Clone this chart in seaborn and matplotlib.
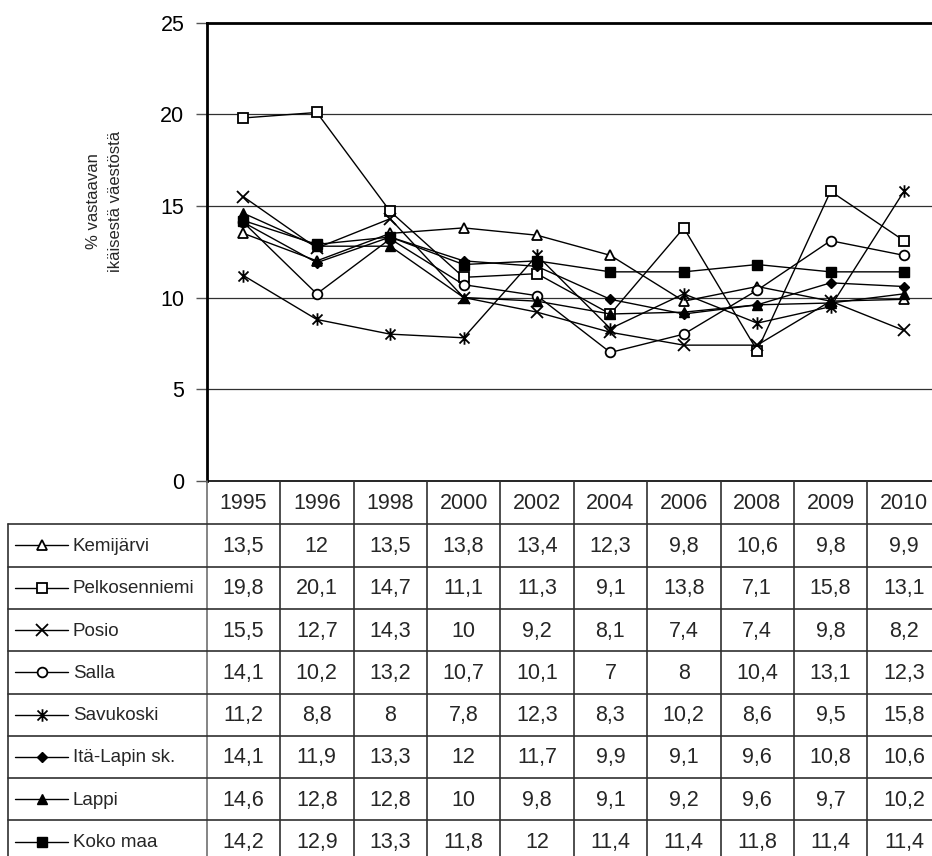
import numpy as np
import pandas as pd
import matplotlib
matplotlib.use("Agg")
import matplotlib.pyplot as plt
from matplotlib import font_manager
from matplotlib.lines import Line2D
from matplotlib.path import Path
import seaborn as sns

years = ["1995", "1996", "1998", "2000", "2002", "2004", "2006", "2008", "2009", "2010"]
series_names = ["Kemijärvi", "Pelkosenniemi", "Posio", "Salla", "Savukoski",
                "Itä-Lapin sk.", "Lappi", "Koko maa"]
kemijarvi = [13.5, 12, 13.5, 13.8, 13.4, 12.3, 9.8, 10.6, 9.8, 9.9]
pelkosenniemi = [19.8, 20.1, 14.7, 11.1, 11.3, 9.1, 13.8, 7.1, 15.8, 13.1]
posio = [15.5, 12.7, 14.3, 10, 9.2, 8.1, 7.4, 7.4, 9.8, 8.2]
salla = [14.1, 10.2, 13.2, 10.7, 10.1, 7, 8, 10.4, 13.1, 12.3]
savukoski = [11.2, 8.8, 8, 7.8, 12.3, 8.3, 10.2, 8.6, 9.5, 15.8]
ita_lapin = [14.1, 11.9, 13.3, 12, 11.7, 9.9, 9.1, 9.6, 10.8, 10.6]
lappi = [14.6, 12.8, 12.8, 10, 9.8, 9.1, 9.2, 9.6, 9.7, 10.2]
koko_maa = [14.2, 12.9, 13.3, 11.8, 12, 11.4, 11.4, 11.8, 11.4, 11.4]
series_values = [kemijarvi, pelkosenniemi, posio, salla, savukoski, ita_lapin, lappi, koko_maa]
y_ticks = [0, 5, 10, 15, 20, 25]
y_label = "% vastaavan\nikäisestä väestöstä"

# asterisk marker: an x with a vertical bar
star = Path([(0, -1), (0, 1), (-0.8, -0.8), (0.8, 0.8), (-0.8, 0.8), (0.8, -0.8)],
            [Path.MOVETO, Path.LINETO, Path.MOVETO, Path.LINETO, Path.MOVETO, Path.LINETO])

# marker styles: (marker, facecolor, size)
styles = [("^", "white", 7.5), ("s", "white", 7), ("x", "none", 8), ("o", "white", 7),
          (star, "none", 9), ("D", "black", 5.5), ("^", "black", 7.5), ("s", "black", 6.5)]

sns.set_theme(style="white")
available = {f.name for f in font_manager.fontManager.ttflist}
if "Liberation Sans Narrow" in available:
    fam = ["Liberation Sans Narrow", "DejaVu Sans"]
    fs, fs_row, fs_lab = 16, 16, 12.5
else:
    fam = ["Liberation Sans", "DejaVu Sans"]
    fs, fs_row, fs_lab = 15.5, 13.5, 12
plt.rcParams["font.family"] = fam

W, H = 932, 856
fig = plt.figure(figsize=(W / 100, H / 100), dpi=100)

x_left = 206.7
col_w = 73.4
y_top = 22.7
y_zero = 480.7

ax = fig.add_axes([x_left / W, 1 - y_zero / H, col_w * 10 / W, (y_zero - y_top) / H])

df = pd.DataFrame({"pos": np.arange(len(years))})
for name, vals, (m, fc, ms) in zip(series_names, series_values, styles):
    df[name] = vals
    mew = 1.3 if fc != "black" else 1.0
    sns.lineplot(data=df, x="pos", y=name, ax=ax, color="black", linewidth=1.0,
                 marker=m, markersize=ms, markerfacecolor=fc, markeredgecolor="black",
                 markeredgewidth=mew, zorder=3)

ax.set_xlim(-0.5, len(years) - 0.5)
ax.set_ylim(0, 25)
ax.set_yticks(y_ticks)
ax.set_yticklabels([str(t) for t in y_ticks], fontsize=fs)
ax.set_xticks([])
ax.set_xlabel("")
ax.set_ylabel("")
for t in [5, 10, 15, 20]:
    ax.axhline(t, color="#303030", linewidth=0.9, zorder=1)
ax.tick_params(axis="y", direction="out", length=8, width=1, color="#555555",
               pad=8, left=True, labelsize=fs, labelcolor="black")
for s in ["left", "top"]:
    ax.spines[s].set_visible(True)
    ax.spines[s].set_color("black")
    ax.spines[s].set_linewidth(2)
ax.spines["right"].set_visible(False)
ax.spines["bottom"].set_visible(True)
ax.spines["bottom"].set_color("black")
ax.spines["bottom"].set_linewidth(1.2)

fig.text(104.5 / W, 1 - 201 / H, y_label, rotation=90, ha="center", va="center",
         multialignment="center", fontsize=fs_lab, linespacing=1.5)

# table overlay in pixel coordinates
tx = fig.add_axes([0, 0, 1, 1])
tx.set_xlim(0, W)
tx.set_ylim(H, 0)
tx.axis("off")
tx.patch.set_alpha(0)

row_top = 524.3
row_h = 42.3
lc = "#303030"
for k in range(len(years) + 1):
    xx = x_left + k * col_w
    tx.plot([xx, xx], [y_zero, H], color="#707070" if k == 0 else lc, lw=1.2)
for k, yr in enumerate(years):
    tx.text(x_left + (k + 0.5) * col_w, (y_zero + row_top) / 2 + 1, yr,
            ha="center", va="center", fontsize=fs)
tx.plot([8, 8], [row_top, H], color=lc, lw=1.2)
for r in range(len(series_names) + 1):
    yy = row_top + r * row_h
    tx.plot([8, W], [yy, yy], color=lc, lw=1.2)


def fmt(v):
    return f"{v:g}".replace(".", ",")


for r, (name, vals, (m, fc, ms)) in enumerate(zip(series_names, series_values, styles)):
    yc = row_top + (r + 0.5) * row_h
    mew = 1.3 if fc != "black" else 1.0
    tx.add_line(Line2D([15, 68], [yc, yc], color="black", lw=1.0))
    tx.add_line(Line2D([41.5], [yc], marker=m, markersize=ms, markerfacecolor=fc,
                       markeredgecolor="black", markeredgewidth=mew, color="black"))
    tx.text(73, yc + 1, name, ha="left", va="center", fontsize=fs_row)
    for k, v in enumerate(vals):
        tx.text(x_left + (k + 0.5) * col_w, yc + 1, fmt(v), ha="center", va="center",
                fontsize=fs)

fig.savefig("out.png", dpi=100)
